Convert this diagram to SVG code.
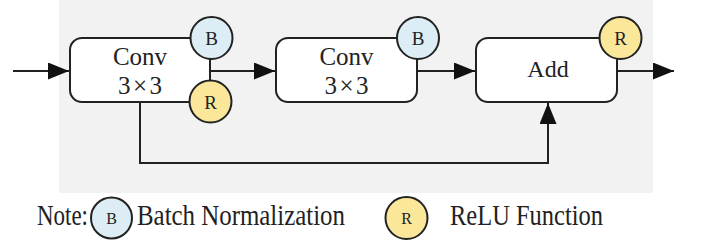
<svg xmlns="http://www.w3.org/2000/svg" width="707" height="245" viewBox="0 0 707 245">
<defs>
<style>
.box{fill:#fff;stroke:#222;stroke-width:2}
.b{fill:#dcedf5;stroke:#222;stroke-width:2}
.r{fill:#fbe79a;stroke:#222;stroke-width:2}
.ln{fill:none;stroke:#222;stroke-width:2}
.t{font-family:"Liberation Serif","Times New Roman",serif;fill:#222;text-anchor:middle}
.s{font-size:19px}
.sl{font-size:16px}
.m{font-size:25px}
.lg{font-family:"Liberation Serif","Times New Roman",serif;fill:#222;font-size:29px}
</style>
<marker id="ah" markerWidth="21" markerHeight="17" refX="21" refY="8.5" orient="auto" markerUnits="userSpaceOnUse">
<path d="M0,0 L21,8.5 L0,17 Z" fill="#111"/>
</marker>
</defs>
<rect x="59" y="0" width="594" height="193" fill="#f2f2f2"/>
<g id="connectors">
<line class="ln" x1="13" y1="71" x2="69" y2="71" marker-end="url(#ah)"/>
<line class="ln" x1="210" y1="71" x2="275" y2="71" marker-end="url(#ah)"/>
<line class="ln" x1="417" y1="71" x2="475" y2="71" marker-end="url(#ah)"/>
<line class="ln" x1="617" y1="71" x2="674" y2="71" marker-end="url(#ah)"/>
<polyline class="ln" points="140,102 140,163 548,163 548,103" marker-end="url(#ah)"/>
</g>
<g id="conv1">
<rect class="box" x="70" y="38" width="140" height="64" rx="12"/>
<text class="t m" x="140" y="65">Conv</text>
<text class="t m" x="140" y="94" textLength="44" lengthAdjust="spacing">3×3</text>
<line class="ln" x1="210" y1="55" x2="210" y2="85"/>
<circle class="b" cx="211.5" cy="38" r="21"/>
<text class="t s" x="211.5" y="45">B</text>
<circle class="r" cx="210.5" cy="101.5" r="21"/>
<text class="t s" x="210.5" y="108.5">R</text>
</g>
<g id="conv2">
<rect class="box" x="276" y="38" width="141" height="64" rx="12"/>
<text class="t m" x="346.5" y="65">Conv</text>
<text class="t m" x="346.5" y="94" textLength="44" lengthAdjust="spacing">3×3</text>
<circle class="b" cx="418" cy="38" r="21"/>
<text class="t s" x="418" y="45">B</text>
</g>
<g id="add">
<rect class="box" x="476" y="38" width="141" height="64" rx="12"/>
<text class="t" x="548" y="77" style="font-size:24px">Add</text>
<circle class="r" cx="620.5" cy="38" r="21"/>
<text class="t s" x="620.5" y="45">R</text>
</g>
<g id="legend">
<text class="lg" x="37" y="225" textLength="51" lengthAdjust="spacingAndGlyphs">Note:</text>
<circle class="b" cx="111.5" cy="218" r="20.5"/>
<text class="t sl" x="111.5" y="224">B</text>
<text class="lg" x="137" y="225" textLength="208" lengthAdjust="spacingAndGlyphs">Batch Normalization</text>
<circle class="r" cx="406.5" cy="218" r="21"/>
<text class="t sl" x="406.5" y="224">R</text>
<text class="lg" x="450" y="225" textLength="153" lengthAdjust="spacingAndGlyphs">ReLU Function</text>
</g>
</svg>
